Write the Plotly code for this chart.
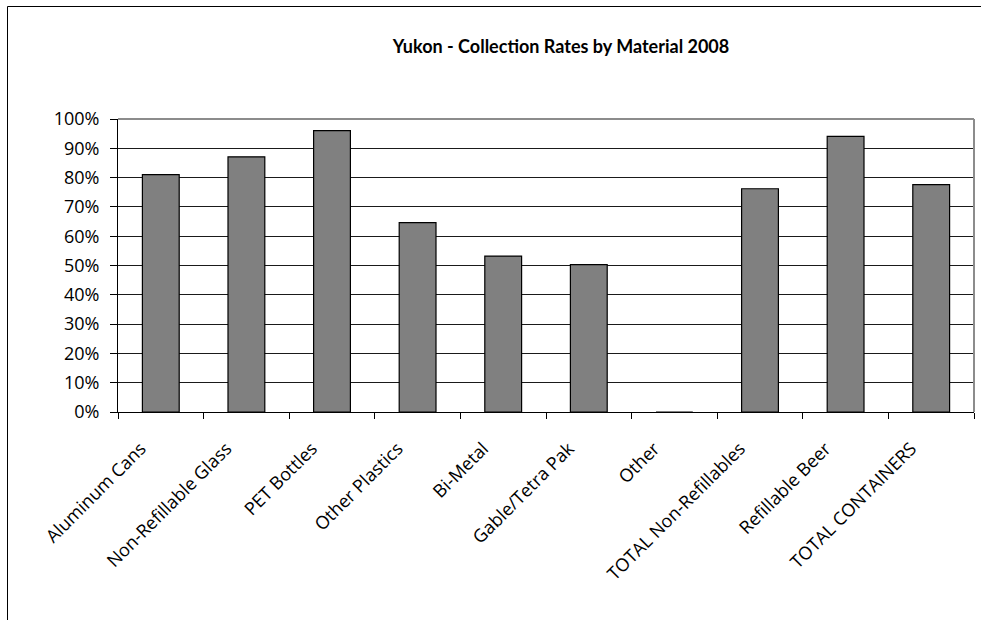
import plotly.graph_objects as go

# Collection rate per container material, Yukon 2008
materials = [
    "Aluminum Cans", "Non-Refillable Glass", "PET Bottles", "Other Plastics",
    "Bi-Metal", "Gable/Tetra Pak", "Other", "TOTAL Non-Refillables",
    "Refillable Beer", "TOTAL CONTAINERS",
]
rates = [0.810, 0.871, 0.960, 0.646, 0.532, 0.503, 0.0, 0.762, 0.941, 0.776]

y_ticks = [i / 10 for i in range(11)]

W, H = 981, 620
L, R, T, B = 118, 7, 119, 208
pw, ph = W - L - R, H - T - B

def px_x(x):
    return (x - L) / pw

def px_y(y):
    return 1 + (T - y) / ph

TITLE_FONT = "Lato"
AXIS_FONT = "Open Sans"

fig = go.Figure(
    go.Bar(
        x=materials,
        y=rates,
        marker=dict(color="#808080", line=dict(color="#000000", width=1.2)),
        width=0.43,
    )
)

fig.update_layout(
    width=W,
    height=H,
    margin=dict(l=L, r=R, t=T, b=B),
    paper_bgcolor="white",
    plot_bgcolor="white",
    showlegend=False,
    font=dict(family=AXIS_FONT, color="#000000", size=18),
    title=dict(
        text="<b>Yukon - Collection Rates by Material 2008</b>",
        font=dict(family=TITLE_FONT, size=18, color="#000000"),
        xref="container", yref="container",
        x=561 / W, xanchor="center",
        y=1 - 47 / H, yanchor="middle",
    ),
)

fig.update_xaxes(
    type="category",
    tickangle=-45,
    tickson="boundaries",
    ticks="outside",
    ticklen=6,
    tickcolor="#000000",
    ticklabelshift=-20,
    ticklabelstandoff=18,
    showline=True,
    linecolor="#000000",
    linewidth=1,
    showgrid=False,
    tickfont=dict(family=AXIS_FONT, size=18),
)

fig.update_yaxes(
    range=[0, 1],
    tickvals=y_ticks,
    tickformat=".0%",
    ticks="outside",
    ticklen=7,
    tickcolor="#000000",
    ticklabelstandoff=7,
    showline=True,
    linecolor="#000000",
    linewidth=1,
    showgrid=True,
    gridcolor="#1a1a1a",
    gridwidth=1,
    zeroline=False,
    tickfont=dict(family=AXIS_FONT, size=18),
)

# gray frame on top and right of the plot area
fig.add_shape(type="line", xref="paper", yref="paper", x0=0, x1=1, y0=1, y1=1,
              line=dict(color="#8c8c8c", width=2), layer="above")
fig.add_shape(type="line", xref="paper", yref="paper", x0=1, x1=1, y0=0, y1=1,
              line=dict(color="#8c8c8c", width=2), layer="above")

# outer chart border (left and top edges)
fig.add_shape(type="line", xref="paper", yref="paper",
              x0=px_x(7.5), x1=px_x(7.5), y0=px_y(6.5), y1=px_y(620),
              line=dict(color="#000000", width=1), layer="above")
fig.add_shape(type="line", xref="paper", yref="paper",
              x0=px_x(7.5), x1=px_x(981), y0=px_y(6.5), y1=px_y(6.5),
              line=dict(color="#000000", width=1), layer="above")

fig.write_html("out.html")
